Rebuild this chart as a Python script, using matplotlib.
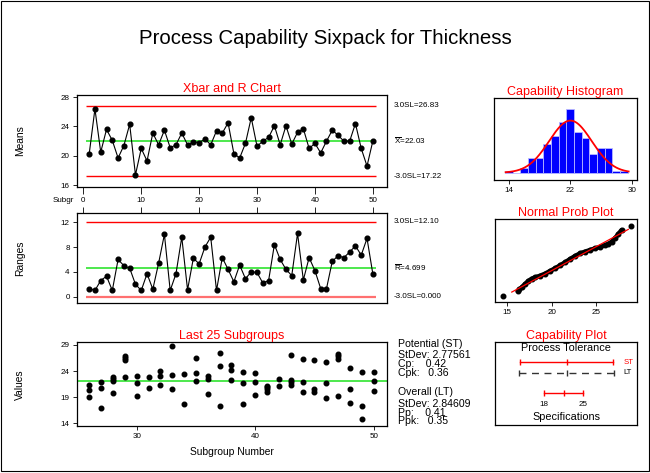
import numpy as np
import matplotlib
matplotlib.use('Agg')
import matplotlib.pyplot as plt
import matplotlib.transforms as mtrans

plt.rcParams['font.family'] = ['Liberation Sans', 'DejaVu Sans']
plt.rcParams['mathtext.fontset'] = 'custom'
plt.rcParams['mathtext.rm'] = 'Liberation Sans'

# ---------------- data ----------------
subgroups = list(range(1, 51))
xbar = [20.2, 26.4, 20.5, 23.6, 22.1, 19.7, 21.4, 24.3, 17.4, 21.0,
        19.3, 23.1, 21.5, 23.5, 21.1, 21.5, 23.1, 21.5, 21.9, 21.8,
        22.3, 21.5, 23.4, 23.1, 24.5, 20.3, 19.7, 21.7, 25.2, 21.3,
        22.0, 22.5, 24.1, 21.5, 24.1, 21.6, 23.2, 23.7, 21.0, 21.7,
        20.4, 22.0, 23.5, 22.8, 22.0, 22.0, 24.4, 21.0, 18.6, 22.0]
ranges = [1.3, 1.0, 2.6, 3.3, 1.0, 6.0, 5.0, 4.6, 2.0, 1.0,
          3.7, 1.2, 5.4, 10.05, 1.0, 3.7, 9.6, 1.1, 6.2, 5.3,
          8.0, 9.6, 1.0, 6.3, 4.4, 2.4, 5.1, 2.9, 4.0, 3.9,
          2.2, 2.6, 8.4, 6.0, 4.4, 3.4, 10.2, 2.7, 6.3, 4.2,
          1.3, 1.3, 5.7, 6.6, 6.3, 7.2, 8.2, 6.7, 9.4, 3.7]
xbar_center, xbar_ucl, xbar_lcl = 22.03, 26.83, 17.22
r_center, r_ucl, r_lcl = 4.699, 12.10, 0.0

last25 = {
    26: [21.4, 20.3, 19.0], 27: [21.95, 20.7, 16.95], 28: [22.85, 22.5, 22.1, 19.8],
    29: [26.85, 26.5, 26.1, 22.9], 30: [23.1, 21.75, 19.2], 31: [22.8, 20.7],
    32: [24.0, 23.0, 21.4], 33: [28.9, 23.3, 20.5], 34: [23.5, 17.6],
    35: [26.6, 23.7, 22.1], 36: [23.0, 22.4, 19.7], 37: [27.5, 25.0, 17.3],
    38: [25.1, 24.2, 22.3], 39: [23.8, 21.75, 17.6], 40: [23.7, 21.95, 19.45],
    41: [21.2, 20.9, 20.6, 19.9], 42: [22.5, 21.05], 43: [27.1, 22.2, 21.9, 21.3],
    44: [26.4, 21.9, 20.0], 45: [26.1, 20.5, 20.0], 46: [25.7, 21.75, 18.8],
    47: [27.3, 26.9, 26.4, 19.3], 48: [24.5, 20.6, 17.9], 49: [23.8, 17.3, 14.75],
    50: [23.8, 22.1, 20.2],
}

hist_centers = [14, 15, 16, 17, 18, 19, 20, 21, 22, 23, 24, 25, 26, 27, 28, 29]
hist_counts = [1, 0, 3, 10, 10, 20, 25, 35, 44, 28, 24, 13, 17, 17, 1, 1]
n_total = 250
sd_st, sd_lt = 2.77561, 2.84609
lsl, usl = 18, 25

np_x = [14.5, 16.17, 16.35, 16.62, 16.99, 17.37, 17.74, 18.12, 18.68, 19.25, 19.81,
        20.38, 20.94, 21.50, 22.07, 22.63, 23.20, 23.76, 24.32, 24.89, 25.45,
        26.02, 26.39, 26.77, 27.14, 27.52, 27.89, 28.9]
np_z = [-2.88, -2.50, -2.36, -2.20, -1.92, -1.67, -1.48, -1.37, -1.24, -1.07, -0.85,
        -0.63, -0.39, -0.14, 0.13, 0.38, 0.60, 0.74, 0.87, 1.01, 1.12,
        1.26, 1.37, 1.56, 1.83, 2.19, 2.52, 2.87]
fit_x = [15.5, 28.65]
fit_z = [-2.58, 2.57]

stats_lines = ["Potential (ST)", "StDev: 2.77561", "Cp:    0.42", "Cpk:   0.36",
               "Overall (LT)", "StDev: 2.84609", "Pp:    0.41", "Ppk:   0.35"]

# ---------------- layout helpers ----------------
W, H = 650, 473
fig = plt.figure(figsize=(W / 100, H / 100), dpi=100)


def box(l, t, r, b):
    return [l / W, 1 - b / H, (r - l) / W, (b - t) / H]


def ftext(x, y, s, **kw):
    fig.text(x / W, 1 - y / H, s, **kw)


RED = '#ff0000'
GREEN = '#4de84d'
TICK_FS = 5.8
LAB_FS = 7.4
TITLE_FS = 9.0


def style(ax):
    for sp in ax.spines.values():
        sp.set_linewidth(0.9)
        sp.set_color('black')
    ax.tick_params(direction='out', length=3, width=0.6, labelsize=TICK_FS, pad=2)


# outer frame
fig.patches.append(plt.Rectangle((0.002, 0.004), 0.996, 0.994, transform=fig.transFigure,
                                 fill=False, edgecolor='black', lw=0.8))

ftext(325, 38, "Process Capability Sixpack for Thickness", ha='center', va='center', fontsize=14.7)

# ---------------- Xbar chart ----------------
ax1 = fig.add_axes(box(76.7, 95, 386.7, 187.3))
style(ax1)
ax1.hlines([xbar_ucl, xbar_lcl], 0.5, 50.5, colors=RED, lw=1.0, zorder=1)
ax1.hlines(xbar_center, 0.5, 50.5, colors=GREEN, lw=1.4, zorder=1)
ax1.plot(subgroups, xbar, color='black', lw=0.8, marker='o', ms=3.4, zorder=3)
ax1.set_xlim(-1.15, 52.4)
ax1.set_ylim(15.7, 28.3)
ax1.set_yticks([16, 20, 24, 28])
ax1.set_xticks([0, 10, 20, 30, 40, 50])
ax1.tick_params(axis='x', labelbottom=False, length=5)
ax1.set_title("Xbar and R Chart", color=RED, fontsize=TITLE_FS, pad=2)
tr1 = mtrans.blended_transform_factory(ax1.transAxes, ax1.transData)
ax1.text(1.023, xbar_ucl, "3.0SL=26.83", transform=tr1, va='center', fontsize=TICK_FS)
ax1.text(1.023, xbar_center, r"$\mathregular{\overline{X}}$=22.03", transform=tr1, va='center', fontsize=TICK_FS)
ax1.text(1.023, xbar_lcl, "-3.0SL=17.22", transform=tr1, va='center', fontsize=TICK_FS)
ftext(20, 141, "Means", rotation=90, ha='center', va='center', fontsize=LAB_FS)

# ---------------- R chart ----------------
ax2 = fig.add_axes(box(76.7, 213.3, 386.7, 303.3))
style(ax2)
ax2.hlines(r_ucl, 0.5, 50.5, colors=RED, lw=1.0, zorder=1)
ax2.hlines(r_lcl, 0.5, 50.5, colors='#ff7070', lw=1.6, zorder=1)
ax2.hlines(r_center, 0.5, 50.5, colors=GREEN, lw=1.4, zorder=1)
ax2.plot(subgroups, ranges, color='black', lw=0.8, marker='o', ms=3.4, zorder=3)
ax2.set_xlim(-1.15, 52.4)
ax2.set_ylim(-1.07, 13.45)
ax2.set_yticks([0, 4, 8, 12])
ax2.set_xticks([0, 10, 20, 30, 40, 50])
ax2.xaxis.tick_top()
ax2.tick_params(axis='x', length=4, pad=3)
tr2 = mtrans.blended_transform_factory(ax2.transAxes, ax2.transData)
ax2.text(1.023, r_ucl, "3.0SL=12.10", transform=tr2, va='center', fontsize=TICK_FS)
ax2.text(1.023, r_center, r"$\mathregular{\overline{R}}$=4.699", transform=tr2, va='center', fontsize=TICK_FS)
ax2.text(1.023, r_lcl, "-3.0SL=0.000", transform=tr2, va='center', fontsize=TICK_FS)
ftext(53, 201, "Subgr", ha='left', va='center', fontsize=TICK_FS)
ftext(20, 258, "Ranges", rotation=90, ha='center', va='center', fontsize=LAB_FS)

# ---------------- Last 25 subgroups ----------------
ax3 = fig.add_axes(box(76.7, 341.7, 386.7, 426))
style(ax3)
ax3.axhline(xbar_center, color=GREEN, lw=1.4, zorder=1)
for sg, vals in last25.items():
    ax3.plot([sg] * len(vals), vals, 'o', color='black', ms=3.3, zorder=3)
ax3.set_xlim(24.94, 51.1)
ax3.set_ylim(13.48, 29.63)
ax3.set_yticks([14, 19, 24, 29])
ax3.set_xticks([30, 40, 50])
ax3.set_title("Last 25 Subgroups", color=RED, fontsize=TITLE_FS, pad=2)
ax3.set_xlabel("Subgroup Number", fontsize=LAB_FS, labelpad=5)
ftext(20, 385, "Values", rotation=90, ha='center', va='center', fontsize=LAB_FS)

ys = [344, 354.5, 363.5, 372.5, 392, 404, 412.5, 421]
for s, y in zip(stats_lines, ys):
    ftext(398, y, s, ha='left', va='center', fontsize=7.6)

# ---------------- Capability histogram ----------------
ax4 = fig.add_axes(box(494, 97.7, 636.7, 180))
style(ax4)
ax4.bar(hist_centers, hist_counts, width=1.0, color='#0000ff', edgecolor='#b8b8ff', lw=0.6, zorder=2)
xx = np.linspace(13.6, 29.6, 200)
yy = n_total * 1.0 * np.exp(-0.5 * ((xx - xbar_center) / sd_st) ** 2) / (sd_st * np.sqrt(2 * np.pi))
ax4.plot(xx, yy, color=RED, lw=1.3, zorder=3)
ax4.set_xlim(12.09, 30.65)
ax4.set_ylim(-5, 51.7)
ax4.set_yticks([])
ax4.set_xticks([14, 22, 30])
ax4.set_title("Capability Histogram", color=RED, fontsize=TITLE_FS, pad=2)

# ---------------- Normal prob plot ----------------
ax5 = fig.add_axes(box(495, 219, 637.3, 301.7))
style(ax5)
ax5.plot(np_x[1:-1], np_z[1:-1], color='black', lw=3.2, solid_capstyle='round', zorder=2)
ax5.plot(np_x, np_z, 'o', color='black', ms=3.3, zorder=3)
ax5.plot(fit_x, fit_z, color=RED, lw=0.9, zorder=4)
ax5.set_xlim(13.61, 29.66)
ax5.set_ylim(-3.37, 3.42)
ax5.set_yticks([])
ax5.set_xticks([15, 20, 25])
ax5.set_title("Normal Prob Plot", color=RED, fontsize=TITLE_FS, pad=2)

# ---------------- Capability plot ----------------
ax6 = fig.add_axes(box(495, 341.7, 637.3, 425.3))
style(ax6)
ax6.set_xlim(9.15, 34.69)
ax6.set_ylim(0, 1)
ax6.set_xticks([])
ax6.set_yticks([])
ax6.set_title("Capability Plot", color=RED, fontsize=TITLE_FS, pad=2)
st_lo, st_hi = xbar_center - 3 * sd_st, xbar_center + 3 * sd_st
lt_lo, lt_hi = xbar_center - 3 * sd_lt, xbar_center + 3 * sd_lt
y_st, y_lt, y_sp = 0.757, 0.629, 0.386
tr6 = mtrans.blended_transform_factory(ax6.transAxes, ax6.transData)
ax6.plot([st_lo, st_hi], [y_st, y_st], color=RED, lw=1.0)
ax6.plot([st_lo, xbar_center, st_hi], [y_st] * 3, '|', color=RED, ms=5, mew=1.0)
ax6.plot([lt_lo, lt_hi], [y_lt, y_lt], color='#333333', lw=1.0, dashes=(5, 4))
ax6.plot([lt_lo, xbar_center, lt_hi], [y_lt] * 3, '|', color='#333333', ms=5, mew=1.0)
ax6.plot([lsl, usl], [y_sp, y_sp], color=RED, lw=1.0)
ax6.plot([lsl, (lsl + usl) / 2, usl], [y_sp] * 3, '|', color=RED, ms=5, mew=1.0)
ax6.text(0.5, 0.92, "Process Tolerance", transform=ax6.transAxes, ha='center', va='center', fontsize=7.8)
ax6.text(0.905, y_st, "ST", transform=tr6, ha='left', va='center', fontsize=5.6, color=RED)
ax6.text(0.905, y_lt, "LT", transform=tr6, ha='left', va='center', fontsize=5.6, color='black')
ax6.text(lsl, 0.243, "18", ha='center', va='center', fontsize=TICK_FS)
ax6.text(usl, 0.243, "25", ha='center', va='center', fontsize=TICK_FS)
ax6.text(0.5, 0.10, "Specifications", transform=ax6.transAxes, ha='center', va='center', fontsize=7.8)

fig.savefig("out.png", dpi=100)
